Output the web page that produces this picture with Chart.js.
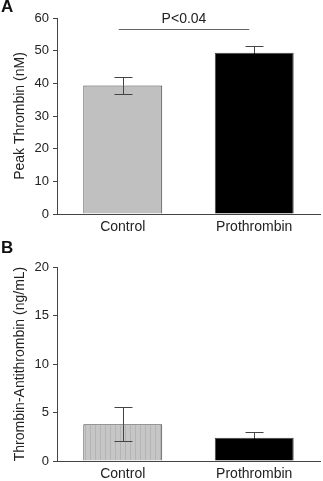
<!DOCTYPE html>
<html>
<head>
<meta charset="utf-8">
<script src="https://cdn.jsdelivr.net/npm/chart.js@4"></script>
<style>
  body { margin: 0; background: #fff; }
  .panel { position: absolute; left: 0; width: 323px; }
  .tag { position: absolute; left: 1px; font: bold 17px "Liberation Sans", Arial, sans-serif; color: #111; }
</style>
</head>
<body>
<div class="panel" style="top:0;height:240px"><canvas id="chartA"></canvas></div>
<div class="panel" style="top:240px;height:241px"><canvas id="chartB"></canvas></div>
<div class="tag" style="top:-3px">A</div>
<div class="tag" style="top:238px">B</div>
<script>
const groups = ['Control', 'Prothrombin'];

// panel A: peak thrombin (nM)
const peakMean = [39.3, 49.4];
const peakErr = [2.5, 2.0];
const peakTicks = [0, 10, 20, 30, 40, 50, 60];

// panel B: thrombin-antithrombin (ng/mL)
const tatMean = [3.8, 2.4];
const tatErr = [1.75, 0.55];
const tatTicks = [0, 5, 10, 15, 20];

const fontFam = '"Liberation Sans", Arial, sans-serif';
const axisColor = '#444';

function stripes() {
  const c = document.createElement('canvas');
  c.width = 5; c.height = 4;
  const g = c.getContext('2d');
  g.fillStyle = '#c6c6c6';
  g.fillRect(0, 0, 5, 4);
  g.fillStyle = '#b4b4b4';
  g.fillRect(0, 0, 1, 4);
  return g.createPattern(c, 'repeat');
}

// error bars (mean +/- err); the lower half sits inside the bar
const errorBars = {
  id: 'errorBars',
  afterDatasetsDraw(chart, args, opts) {
    const ctx = chart.ctx;
    const x = chart.scales.x, y = chart.scales.y;
    const mean = chart.data.datasets[0].data;
    ctx.save();
    ctx.lineWidth = 1;
    mean.forEach((m, i) => {
      const px = Math.round(x.getPixelForValue(i)) + 0.5;
      const mid = y.getPixelForValue(m);
      const hi = Math.round(y.getPixelForValue(m + opts.err[i])) + 0.5;
      const lo = Math.round(y.getPixelForValue(m - opts.err[i])) + 0.5;
      ctx.strokeStyle = axisColor;
      ctx.beginPath();
      ctx.moveTo(px, hi); ctx.lineTo(px, mid);
      ctx.moveTo(px - 9, hi); ctx.lineTo(px + 9, hi);
      ctx.stroke();
      ctx.strokeStyle = opts.inner[i];
      ctx.beginPath();
      ctx.moveTo(px, mid); ctx.lineTo(px, lo);
      ctx.moveTo(px - 9, lo); ctx.lineTo(px + 9, lo);
      ctx.stroke();
    });
    if (opts.sig) {
      const yy = Math.round(y.getPixelForValue(opts.sig.at)) + 0.5;
      const x0 = x.getPixelForValue(0) - 4, x1 = x.getPixelForValue(1) - 5;
      ctx.strokeStyle = '#666';
      ctx.beginPath(); ctx.moveTo(x0, yy); ctx.lineTo(x1, yy); ctx.stroke();
      ctx.fillStyle = '#222';
      ctx.font = '14px ' + fontFam;
      ctx.textAlign = 'center';
      ctx.textBaseline = 'bottom';
      ctx.fillText(opts.sig.text, (x0 + x1) / 2, yy - 3);
    }
    ctx.restore();
  }
};

function makeChart(id, mean, err, ticks, colors, title, top, xh, sig) {
  const max = ticks[ticks.length - 1];
  return new Chart(document.getElementById(id), {
    type: 'bar',
    data: {
      labels: groups,
      datasets: [{
        data: mean,
        backgroundColor: colors,
        borderColor: axisColor,
        borderWidth: 1,
        barPercentage: 0.6,
        categoryPercentage: 1
      }]
    },
    plugins: [errorBars],
    options: {
      responsive: true,
      maintainAspectRatio: false,
      animation: false,
      layout: { padding: { top: top, right: 3, left: 0, bottom: 0 } },
      plugins: {
        legend: { display: false },
        tooltip: { enabled: false },
        errorBars: { err: err, sig: sig, inner: [axisColor, '#000'] }
      },
      scales: {
        x: {
          grid: { display: false, drawTicks: false },
          border: { color: axisColor, width: 1 },
          ticks: { color: '#222', font: { size: 14, family: fontFam }, padding: 5 },
          afterFit(s) { s.height = xh; }
        },
        y: {
          min: 0, max: max,
          afterBuildTicks(s) { s.ticks = ticks.map(v => ({ value: v })); },
          grid: { display: true, drawOnChartArea: false, drawTicks: true, tickLength: 4, color: axisColor },
          border: { color: axisColor, width: 1 },
          ticks: { color: '#222', font: { size: 13, family: fontFam }, padding: 4 },
          title: { display: true, text: title, color: '#222', font: { size: 14, family: fontFam }, padding: { top: 12, bottom: 2 } },
          afterFit(s) { s.width = 57; }
        }
      }
    }
  });
}

makeChart('chartA', peakMean, peakErr, peakTicks, ['#c0c0c0', '#000'],
  'Peak Thrombin (nM)', 18, 26, { at: 56.6, text: 'P<0.04' });
makeChart('chartB', tatMean, tatErr, tatTicks, [stripes(), '#000'],
  'Thrombin-Antithrombin (ng/mL)', 27, 20, null);
</script>
</body>
</html>
